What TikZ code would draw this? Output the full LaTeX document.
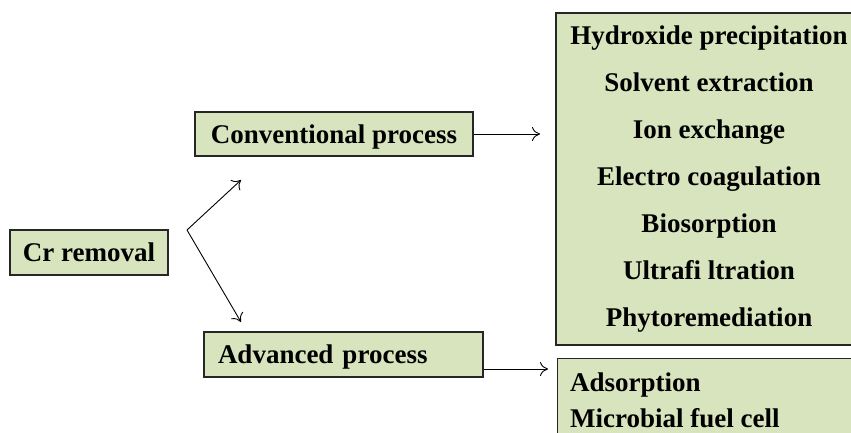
\documentclass[tikz,border=0pt]{standalone}
\usepackage{fontspec}
\setmainfont{Liberation Serif}
\usetikzlibrary{arrows.meta}
\begin{document}
\begin{tikzpicture}[x=1pt,y=-1pt,
  box/.style={draw=black!85,line width=1.3pt,fill=boxgreen,inner sep=0pt,font=\fontsize{27}{47}\selectfont\bfseries},
  one/.style={text height=22pt,text depth=4pt},
  txt/.style={inner sep=0pt,font=\fontsize{27}{33}\selectfont\bfseries,anchor=west},
  arr/.style={-{To[length=8pt,width=14pt]},line width=0.9pt}]
\definecolor{boxgreen}{HTML}{D7E4BD}
\useasboundingbox (0,0) rectangle (851,432);
\node[box,one,minimum width=158pt,minimum height=45pt] (cr) at (89,252.5) {Cr removal};
\node[box,one,minimum width=278pt,minimum height=44pt] (conv) at (334,134) {Conventional process};
\node[box,one,minimum width=279pt,minimum height=45pt,text width=251pt,align=left] (adv) at (343.5,354.5) {Advanced process};
\begin{scope}
\clip (0,0) rectangle (851,432);
\node[box,minimum width=306pt,minimum height=332pt,align=center] (conlist) at (709,179)
 {Hydroxide precipitation\\Solvent extraction\\Ion exchange\\Electro coagulation\\Biosorption\\Ultrafi ltration\\Phytoremediation};
\node[box,minimum width=320pt,minimum height=120pt,anchor=north west] (advlist) at (557,358) {};
\node[txt] (ads) at (570,385) {Adsorption};
\node[txt] (mfc) at (570,418) {Microbial fuel cell};
\end{scope}
\coordinate (apex) at (187,230);
\coordinate (up) at (241,180);
\coordinate (down) at (241,322);
\coordinate (c1) at (540,134);
\coordinate (c2) at (548,369);
\draw[arr] (apex) -- (up);
\draw[arr] (apex) -- (down);
\draw[arr] (conv.east) -- (c1);
\draw[arr] (adv.east |- c2) -- (c2);
\end{tikzpicture}
\end{document}
